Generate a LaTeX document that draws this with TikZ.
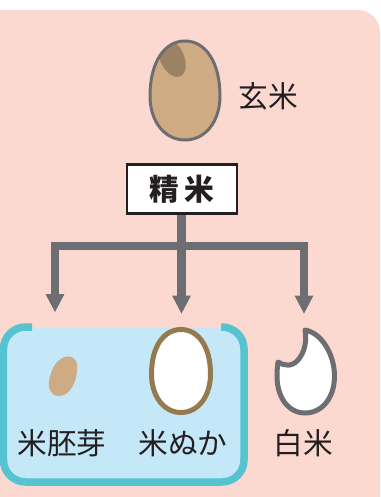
\documentclass[tikz,border=0pt]{standalone}
\usepackage{fontspec}
\setmainfont{Noto Sans CJK JP}
\usetikzlibrary{arrows.meta}
\definecolor{bgpink}{HTML}{FCD9D0}
\definecolor{panelblue}{HTML}{C5E8F9}
\definecolor{panelteal}{HTML}{55C4D0}
\definecolor{ricebrown}{HTML}{CFAB83}
\definecolor{germdark}{HTML}{9C8265}
\definecolor{branbrown}{HTML}{957A4F}
\definecolor{linegray}{HTML}{6D6E71}
\definecolor{inkblack}{HTML}{231F20}
% egg outline: centre x, top y, bottom y, half width, y of widest point
\newcommand{\eggpath}[5]{(#1,#2) .. controls ({#1+0.58*#4},#2) and ({#1+#4},{#5-0.62*(#5-#2)}) .. ({#1+#4},#5)
  .. controls ({#1+#4},{#5+0.58*(#3-#5)}) and ({#1+0.58*#4},#3) .. (#1,#3)
  .. controls ({#1-0.58*#4},#3) and ({#1-#4},{#5+0.58*(#3-#5)}) .. ({#1-#4},#5)
  .. controls ({#1-#4},{#5-0.62*(#5-#2)}) and ({#1-0.58*#4},#2) .. (#1,#2) -- cycle}
\tikzset{
  label/.style={inner sep=0pt, text=inkblack, font=\fontsize{16.9}{18}\selectfont},
  flowline/.style={draw=linegray, line width=0.165cm},
  flowarrow/.style={flowline, line join=miter, -{Triangle[width=0.35cm,length=0.37cm]}},
  panelline/.style={draw=panelteal, line width=0.15cm, rounded corners=0.44cm},
}
\begin{document}
\begin{tikzpicture}[x=0.02cm,y=-0.02cm]
  \useasboundingbox (0,0) rectangle (380,497);
  \fill[white] (0,0) rectangle (380,497);
  \fill[bgpink] (0,10) -- (358,10) .. controls (370,10) and (380,20) .. (380,32) -- (380,497) -- (0,497) -- cycle;

  % brown rice
  \filldraw[fill=ricebrown, draw=none] \eggpath{185}{41}{140}{35}{96};
  \begin{scope}
    \clip \eggpath{185}{41}{140}{35}{96};
    \fill[germdark] (172,58) [rotate around={25:(172,58)}] ellipse (12 and 20);
  \end{scope}
  \draw[linegray, line width=0.06cm] \eggpath{185}{41}{140}{35}{96};
  \node[label] (genmai) at (268,96) {玄米};

  % milling box
  \node[draw=inkblack, fill=white, line width=0.045cm, minimum width=2.2cm, minimum height=0.98cm, inner sep=0pt,
    font=\fontsize{16.9}{18}\selectfont\bfseries, text=inkblack] (seimai) at (182,189) {精\kern3pt米};

  \coordinate (split) at (181.5,246);
  \coordinate (germtip) at (55,312.5);
  \coordinate (brantip) at (181.5,314);
  \coordinate (whitetip) at (304,314);

  % blue panel
  \fill[panelblue, rounded corners=0.44cm] (3.5,327) -- (3.5,482) -- (244,482) -- (244,327) -- cycle;
  \draw[panelline] (32,327) -- (3.5,327) -- (3.5,482) -- (244,482) -- (244,327) -- (221,327);

  % arrows
  \draw[flowline] (seimai.south -| split) -- (split);
  \draw[flowarrow] (split) -| (germtip);
  \draw[flowarrow] (split) -- (brantip);
  \draw[flowarrow] (split) -| (whitetip);

  % germ
  \fill[ricebrown] (68,356.5) .. controls (75,356) and (78,362) .. (77,371)
    .. controls (76,384) and (69,396) .. (59,396)
    .. controls (51,396) and (48,389) .. (49,381)
    .. controls (51,368) and (58,357) .. (68,356.5) -- cycle;
  \node[label] (haigamai) at (62,443) {米胚芽};

  % bran
  \filldraw[fill=white, draw=branbrown, line width=0.1cm] \eggpath{181}{329.5}{412.5}{29.5}{374};
  \node[label] (nuka) at (183,443) {米ぬか};

  % white rice
  \filldraw[fill=white, draw=linegray, line width=0.1cm, line join=round] (305,330)
    .. controls (322,333) and (334.5,355) .. (334.5,376)
    .. controls (334.5,398) and (322,413) .. (305,413)
    .. controls (288,413) and (277,397) .. (277,376)
    .. controls (277,370) and (277.5,365) .. (278,362)
    .. controls (284,366) and (292,367) .. (298,360)
    .. controls (305,352) and (307,340) .. (305,330) -- cycle;
  \node[label] (hakumai) at (303,443) {白米};
\end{tikzpicture}
\end{document}
